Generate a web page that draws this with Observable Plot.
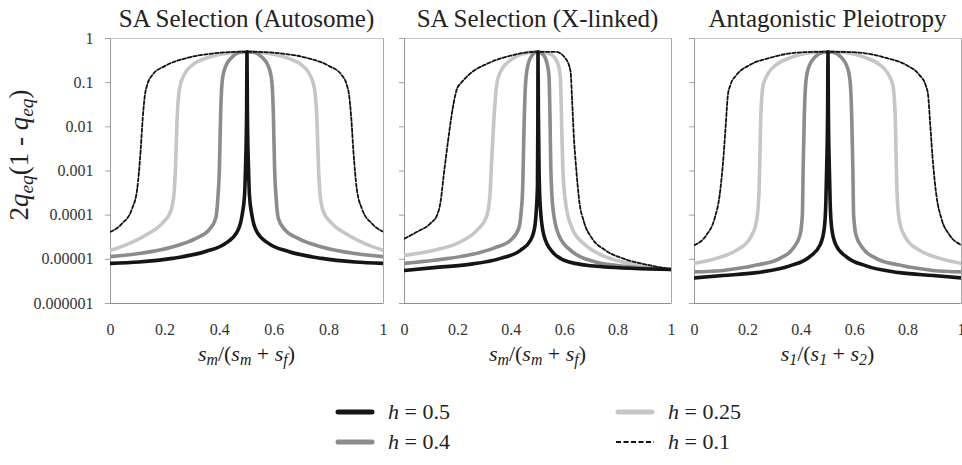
<!DOCTYPE html>
<html><head><meta charset="utf-8">
<script src="https://cdn.jsdelivr.net/npm/d3@7"></script>
<script src="https://cdn.jsdelivr.net/npm/@observablehq/plot@0.6"></script>
<style>
body{margin:0;background:#fff;}
#chart{position:relative;width:962px;height:465px;overflow:hidden;font-family:"Liberation Serif",serif;color:#222;}
#chart *{font-family:"Liberation Serif",serif !important;}
#chart svg text{font-family:"Liberation Serif",serif !important;}
.abs{position:absolute;white-space:nowrap;line-height:1;}
.title{font-size:25px;transform:translateX(-50%);}
.xlab{font-size:22px;transform:translateX(-50%);}
.ylab{font-size:27px;transform:translate(-50%,-50%) rotate(-90deg);}
.leg{font-size:22px;}
sub{font-size:0.72em;vertical-align:-0.28em;line-height:0;}
.panel{position:absolute;top:30px;}
</style></head><body><div id="chart"></div>
<script>
// ---- axis definitions ----
const xTicks = [0, 0.2, 0.4, 0.6, 0.8, 1];
const xTickLabels = ["0", "0.2", "0.4", "0.6", "0.8", "1"];
const yTicks = [1, 0.1, 0.01, 0.001, 0.0001, 0.00001, 0.000001];
const yTickLabels = ["1", "0.1", "0.01", "0.001", "0.0001", "0.00001", "0.000001"];
const hLevels = ["0.5", "0.4", "0.25", "0.1"];
const panelTitles = ["SA Selection (Autosome)", "SA Selection (X-linked)", "Antagonistic Pleiotropy"];

// ---- SA Selection (Autosome): [x, 2q(1-q)] ----
const auto_h05 = [[0,8.1e-6],[0.104,8.7e-6],[0.226,1.05e-5],[0.348,1.5e-5],[0.421,2.3e-5],[0.464,4.2e-5],[0.482,1.0e-4],[0.491,2.8e-4],[0.4945,1.15e-3],[0.4985,0.02],[0.5,0.5],[0.5015,0.02],[0.5055,1.15e-3],[0.509,2.8e-4],[0.518,1.0e-4],[0.536,4.2e-5],[0.579,2.3e-5],[0.652,1.5e-5],[0.774,1.05e-5],[0.896,8.7e-6],[1,8.1e-6]];
const auto_h04 = [[0,1.15e-5],[0.104,1.35e-5],[0.226,1.9e-5],[0.311,2.95e-5],[0.36,4.6e-5],[0.385,8.3e-5],[0.394,2.8e-4],[0.399,1.15e-3],[0.403,0.0155],[0.409,0.105],[0.421,0.229],[0.446,0.38],[0.476,0.49],[0.5,0.5],[0.524,0.49],[0.554,0.38],[0.579,0.229],[0.591,0.105],[0.597,0.0155],[0.601,1.15e-3],[0.606,2.8e-4],[0.615,8.3e-5],[0.64,4.6e-5],[0.689,2.95e-5],[0.774,1.9e-5],[0.896,1.35e-5],[1,1.15e-5]];
const auto_h025 = [[0,1.6e-5],[0.055,2.1e-5],[0.128,3.5e-5],[0.189,6.5e-5],[0.22,1.2e-4],[0.232,2.8e-4],[0.238,1.15e-3],[0.244,0.0155],[0.253,0.074],[0.269,0.148],[0.3,0.251],[0.348,0.355],[0.421,0.457],[0.482,0.495],[0.5,0.5],[0.518,0.495],[0.579,0.457],[0.652,0.355],[0.7,0.251],[0.731,0.148],[0.747,0.074],[0.756,0.0155],[0.762,1.15e-3],[0.768,2.8e-4],[0.78,1.2e-4],[0.811,6.5e-5],[0.872,3.5e-5],[0.945,2.1e-5],[1,1.6e-5]];
const auto_h01 = [[0,4.2e-5],[0.043,6.5e-5],[0.079,1.4e-4],[0.098,4.0e-4],[0.11,2.7e-3],[0.118,0.0155],[0.126,0.052],[0.134,0.087],[0.153,0.148],[0.2,0.24],[0.275,0.355],[0.372,0.457],[0.44,0.492],[0.5,0.5],[0.56,0.492],[0.628,0.457],[0.725,0.355],[0.8,0.24],[0.847,0.148],[0.866,0.087],[0.874,0.052],[0.882,0.0155],[0.89,2.7e-3],[0.902,4.0e-4],[0.921,1.4e-4],[0.957,6.5e-5],[1,4.2e-5]];

// ---- SA Selection (X-linked) ----
const xlink_h05 = [[0,5.6e-6],[0.11,6.5e-6],[0.235,7.6e-6],[0.36,1.05e-5],[0.434,1.6e-5],[0.472,2.7e-5],[0.488,5.5e-5],[0.494,1.4e-4],[0.498,4.8e-4],[0.4993,0.01],[0.5,0.5],[0.5015,0.02],[0.504,1e-3],[0.509,1.4e-4],[0.522,3.5e-5],[0.553,1.5e-5],[0.616,8.7e-6],[0.74,6.8e-6],[1,5.9e-6]];
const xlink_h04 = [[0,8.1e-6],[0.11,9.5e-6],[0.235,1.23e-5],[0.335,1.8e-5],[0.397,2.7e-5],[0.428,5.0e-5],[0.437,1.2e-4],[0.443,4.8e-4],[0.447,6.5e-3],[0.453,0.087],[0.462,0.251],[0.478,0.417],[0.49,0.49],[0.5,0.5],[0.512,0.47],[0.528,0.355],[0.541,0.148],[0.545,0.0155],[0.548,1.15e-3],[0.556,1.4e-4],[0.578,3.5e-5],[0.628,1.5e-5],[0.716,8.7e-6],[0.84,6.8e-6],[1,5.9e-6]];
const xlink_h025 = [[0,1.23e-5],[0.11,1.6e-5],[0.21,2.5e-5],[0.272,4.6e-5],[0.307,9.1e-5],[0.32,2.8e-4],[0.325,1.15e-3],[0.335,0.0155],[0.347,0.105],[0.36,0.178],[0.397,0.324],[0.447,0.457],[0.49,0.5],[0.541,0.457],[0.572,0.295],[0.584,0.123],[0.588,0.0155],[0.593,1.15e-3],[0.603,2.0e-4],[0.628,5.0e-5],[0.678,2.1e-5],[0.74,1.23e-5],[0.84,8.1e-6],[1,5.9e-6]];
const xlink_h01 = [[0,2.95e-5],[0.047,4.2e-5],[0.097,6.5e-5],[0.122,1.0e-4],[0.135,2.0e-4],[0.147,8.1e-4],[0.166,6.5e-3],[0.185,0.037],[0.197,0.074],[0.21,0.095],[0.247,0.162],[0.31,0.269],[0.397,0.407],[0.49,0.5],[0.566,0.5],[0.603,0.355],[0.622,0.178],[0.628,0.037],[0.634,6.5e-3],[0.643,1.15e-3],[0.655,2.0e-4],[0.672,7.1e-5],[0.703,2.95e-5],[0.753,1.6e-5],[0.828,1.0e-5],[0.915,7.4e-6],[1,5.9e-6]];

// ---- Antagonistic Pleiotropy ----
const ap_h05 = [[0,3.8e-6],[0.107,4.3e-6],[0.232,5.0e-6],[0.357,7.1e-6],[0.432,1.15e-5],[0.47,2.1e-5],[0.486,5.0e-5],[0.492,2.0e-4],[0.495,1.15e-3],[0.4985,0.02],[0.5,0.5],[0.5015,0.02],[0.505,1.15e-3],[0.508,2.0e-4],[0.514,5.0e-5],[0.53,2.1e-5],[0.568,1.15e-5],[0.643,7.1e-6],[0.768,5.0e-6],[0.893,4.3e-6],[1,3.8e-6]];
const ap_h04 = [[0,5.2e-6],[0.107,5.6e-6],[0.232,7.4e-6],[0.32,1.05e-5],[0.37,1.8e-5],[0.395,3.5e-5],[0.404,1.0e-4],[0.407,1.15e-3],[0.411,0.0155],[0.416,0.087],[0.426,0.209],[0.451,0.38],[0.482,0.49],[0.5,0.5],[0.518,0.49],[0.549,0.38],[0.574,0.209],[0.584,0.087],[0.589,0.0155],[0.593,1.15e-3],[0.596,1.0e-4],[0.605,3.5e-5],[0.63,1.8e-5],[0.68,1.05e-5],[0.768,7.4e-6],[0.893,5.6e-6],[1,5.2e-6]];
const ap_h025 = [[0,8.1e-6],[0.081,1.05e-5],[0.157,1.6e-5],[0.207,2.95e-5],[0.232,7.1e-5],[0.241,2.8e-4],[0.244,1.15e-3],[0.248,0.0155],[0.257,0.087],[0.276,0.162],[0.307,0.257],[0.357,0.363],[0.432,0.479],[0.489,0.497],[0.5,0.5],[0.511,0.497],[0.568,0.479],[0.643,0.363],[0.693,0.257],[0.724,0.162],[0.743,0.087],[0.752,0.0155],[0.756,1.15e-3],[0.759,2.8e-4],[0.768,7.1e-5],[0.793,2.95e-5],[0.843,1.6e-5],[0.919,1.05e-5],[1,8.1e-6]];
const ap_h01 = [[0,2.1e-5],[0.044,3.5e-5],[0.075,8.3e-5],[0.094,2.8e-4],[0.107,1.6e-3],[0.117,0.011],[0.125,0.052],[0.134,0.087],[0.157,0.148],[0.207,0.251],[0.282,0.363],[0.382,0.479],[0.45,0.497],[0.5,0.5],[0.55,0.497],[0.618,0.479],[0.718,0.363],[0.793,0.251],[0.843,0.148],[0.866,0.087],[0.875,0.052],[0.883,0.011],[0.893,1.6e-3],[0.906,2.8e-4],[0.925,8.3e-5],[0.956,3.5e-5],[1,2.1e-5]];

// ---- styles per h (order of hLevels) ----
const seriesStyle = {
  "0.5":  {stroke: "#151515", strokeWidth: 3.6},
  "0.4":  {stroke: "#8c8c8c", strokeWidth: 3.6},
  "0.25": {stroke: "#c6c6c6", strokeWidth: 3.6},
  "0.1":  {stroke: "#111111", strokeWidth: 1.8, strokeDasharray: "3.5,2"}
};
const drawOrder = ["0.25", "0.4", "0.5", "0.1"];

const panels = [
  {title: panelTitles[0], series: {"0.5": auto_h05, "0.4": auto_h04, "0.25": auto_h025, "0.1": auto_h01},
   left: 0, width: 392, ml: 110, mr: 9, yLabels: true,
   xlab: '<i>s</i><sub><i>m</i></sub>/(<i>s</i><sub><i>m</i></sub> + <i>s</i><sub><i>f</i></sub>)'},
  {title: panelTitles[1], series: {"0.5": xlink_h05, "0.4": xlink_h04, "0.25": xlink_h025, "0.1": xlink_h01},
   left: 396, width: 284, ml: 8, mr: 9, yLabels: false,
   xlab: '<i>s</i><sub><i>m</i></sub>/(<i>s</i><sub><i>m</i></sub> + <i>s</i><sub><i>f</i></sub>)'},
  {title: panelTitles[2], series: {"0.5": ap_h05, "0.4": ap_h04, "0.25": ap_h025, "0.1": ap_h01},
   left: 686, width: 276, ml: 8, mr: 1, yLabels: false,
   xlab: '<i>s</i><sub><i>1</i></sub>/(<i>s</i><sub><i>1</i></sub> + <i>s</i><sub><i>2</i></sub>)'}
];

const chart = document.getElementById("chart");
const fmtX = d => xTickLabels[xTicks.indexOf(d)];
const fmtY = d => yTickLabels[yTicks.indexOf(d)];

function makePanel(p) {
  const lineMarks = drawOrder.map(h => {
    const data = p.series[h].map(([x, y]) => ({x, y, h}));
    return Plot.line(data, {x: "x", y: "y", curve: "monotone-x", clip: true, ...seriesStyle[h]});
  });
  return Plot.plot({
    width: p.width, height: 313,
    marginLeft: p.ml, marginRight: p.mr, marginTop: 8, marginBottom: 40,
    style: {fontFamily: "Liberation Serif, serif", fontSize: "16px", color: "#333", background: "transparent", overflow: "visible"},
    x: {domain: [0, 1]},
    y: {type: "log", domain: [1e-6, 1]},
    marks: [
      Plot.frame({stroke: "#c8c8c8"}),
      Plot.ruleX([0], {stroke: "#9a9a9a"}),
      Plot.ruleX([1], {stroke: "#a8a8a8"}),
      Plot.ruleY([1e-6], {stroke: "#8f8f8f"}),
      Plot.axisX({ticks: xTicks, tickFormat: fmtX, tickSize: 0, tickPadding: 20, fill: "#333", label: null, fontFamily: "Liberation Serif"}),
      Plot.axisY({ticks: yTicks, tickFormat: p.yLabels ? fmtY : () => "", tickSize: 5, tickPadding: 12, stroke: "#a0a0a0", fill: "#333", label: null, fontFamily: "Liberation Serif"}),
      ...lineMarks
    ]
  });
}

panels.forEach(p => {
  const wrap = document.createElement("div");
  wrap.className = "panel";
  wrap.style.left = p.left + "px";
  wrap.appendChild(makePanel(p));
  chart.appendChild(wrap);
  const cx = p.left + p.ml + (p.width - p.ml - p.mr) / 2;
  const t = document.createElement("div");
  t.className = "abs title"; t.style.left = cx + "px"; t.style.top = "6px"; t.textContent = p.title;
  chart.appendChild(t);
  const xl = document.createElement("div");
  xl.className = "abs xlab"; xl.style.left = cx + "px"; xl.style.top = "343px"; xl.innerHTML = p.xlab;
  chart.appendChild(xl);
});

const yl = document.createElement("div");
yl.className = "abs ylab"; yl.style.left = "19px"; yl.style.top = "155px";
yl.innerHTML = '2<i>q</i><sub><i>eq</i></sub>(1 - <i>q</i><sub><i>eq</i></sub>)';
chart.appendChild(yl);

// ---- legend ----
const legendItems = [
  {h: "0.5", x: 335, y: 412},
  {h: "0.4", x: 335, y: 442},
  {h: "0.25", x: 615, y: 412},
  {h: "0.1", x: 615, y: 442}
];
legendItems.forEach(it => {
  const st = seriesStyle[it.h];
  const sw = document.createElementNS("http://www.w3.org/2000/svg", "svg");
  sw.setAttribute("width", 42); sw.setAttribute("height", 10);
  sw.style.position = "absolute"; sw.style.left = it.x + "px"; sw.style.top = (it.y - 5) + "px";
  const ln = document.createElementNS("http://www.w3.org/2000/svg", "line");
  ln.setAttribute("x1", st.strokeDasharray ? 1 : 3); ln.setAttribute("x2", st.strokeDasharray ? 39 : 37);
  ln.setAttribute("y1", 5); ln.setAttribute("y2", 5);
  ln.setAttribute("stroke", st.stroke); ln.setAttribute("stroke-width", st.strokeDasharray ? 2 : 5);
  ln.setAttribute("stroke-linecap", st.strokeDasharray ? "butt" : "round");
  if (st.strokeDasharray) ln.setAttribute("stroke-dasharray", "5,2.5");
  sw.appendChild(ln);
  chart.appendChild(sw);
  const tx = document.createElement("div");
  tx.className = "abs leg"; tx.style.left = (it.x + 53) + "px"; tx.style.top = (it.y - 11) + "px";
  tx.innerHTML = '<i>h</i> = ' + it.h;
  chart.appendChild(tx);
});
</script></body></html>
